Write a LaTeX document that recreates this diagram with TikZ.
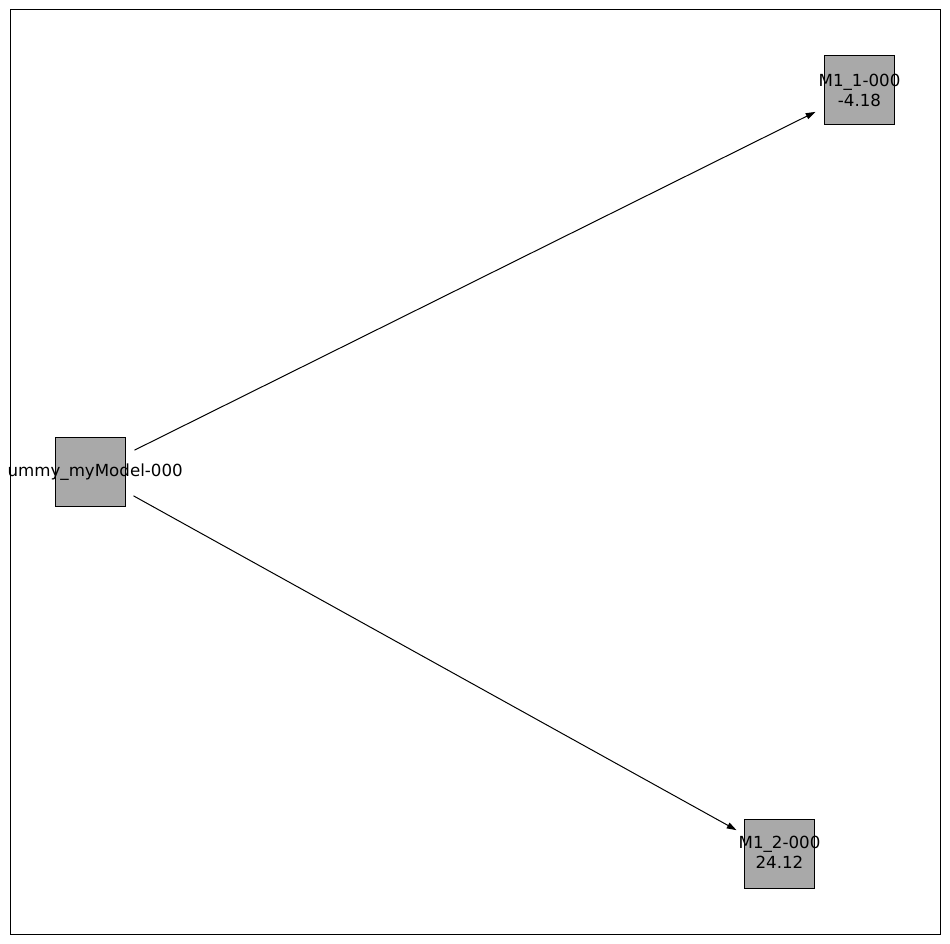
\documentclass[tikz,border=0pt]{standalone}
\usepackage{fontspec}
\setmainfont{DejaVu Sans}
\usetikzlibrary{arrows.meta}
\begin{document}
\begin{tikzpicture}[x=0.72pt,y=-0.72pt,
  box/.style={draw=black,fill={rgb,255:red,169;green,169;blue,169},line width=0.72pt,minimum width=49.7pt,minimum height=49.7pt,inner sep=0pt},
  lbl/.style={inner sep=0pt,align=center,font=\fontsize{12pt}{14.4pt}\selectfont},
  edge/.style={line width=0.72pt,-{Triangle[length=7pt,width=4.5pt]},shorten <=35.4pt,shorten >=35.4pt}]
\useasboundingbox (0,0) rectangle (950,944);
\draw[line width=0.72pt] (10,10) rectangle (940,934);
\node[box] (a) at (90.5,472) {};
\node[lbl,anchor=east] (alabel) at (183,472) {ummy\_myModel-000};
\node[box] (b) at (859.5,90) {};
\node[lbl] (blabel) at (859.5,90) {M1\_1-000\\-4.18};
\node[box] (c) at (779.5,854) {};
\node[lbl] (clabel) at (779.5,852) {M1\_2-000\\24.12};
\draw[edge] (a.center) -- (b.center);
\draw[edge] (a.center) -- (c.center);
\end{tikzpicture}
\end{document}
